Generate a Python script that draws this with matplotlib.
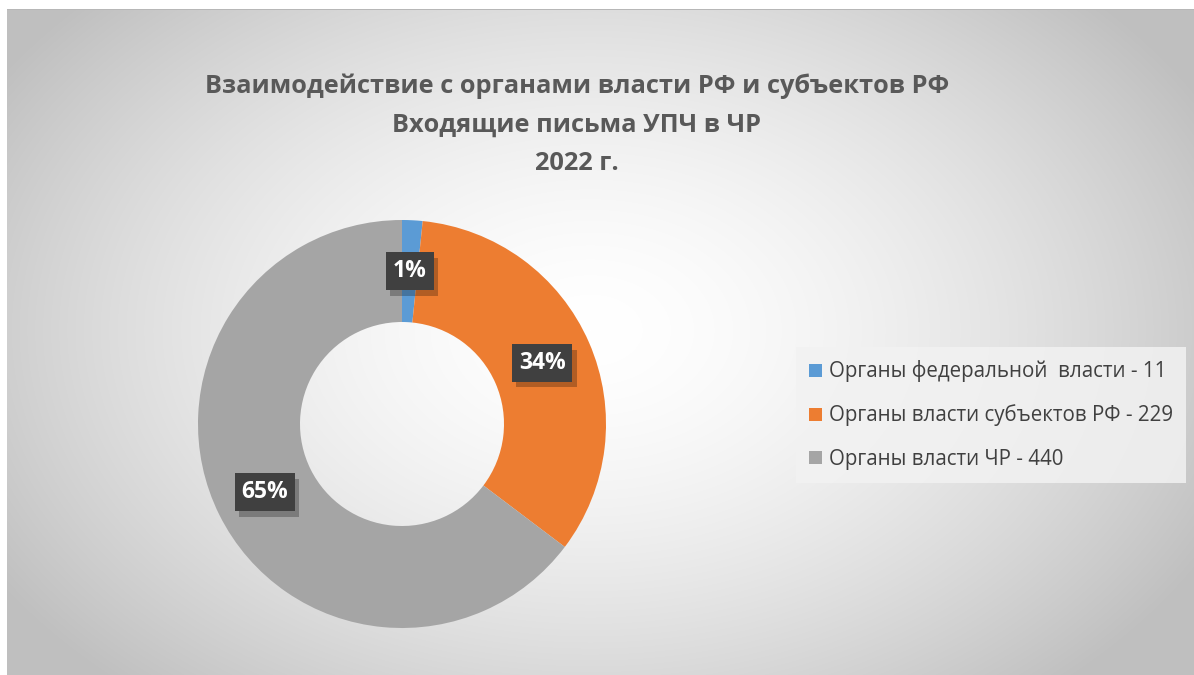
import numpy as np
import matplotlib.pyplot as plt
import matplotlib.patheffects as pe

# data
categories = ["Органы федеральной  власти - 11",
              "Органы власти субъектов РФ - 229",
              "Органы власти ЧР - 440"]
values = [11, 229, 440]
pct_labels = ["1%", "34%", "65%"]
colors = ["#5b9bd5", "#ed7d31", "#a5a5a5"]
title = "Взаимодействие с органами власти РФ и субъектов РФ\nВходящие письма УПЧ в ЧР\n2022 г."

W, H = 1194, 675
fig = plt.figure(figsize=(W / 100, H / 100), dpi=100)
fig.patch.set_facecolor("white")

# radial gradient background
bg = fig.add_axes([0, 0, 1, 1])
bg.set_axis_off()
yy, xx = np.mgrid[0:H, 0:W]
d = np.sqrt(((xx - 590) / 700.0) ** 2 + ((yy - 330) / 480.0) ** 2)
g = 1 - 0.25 * np.clip(d, 0, 1) ** 1.6
img = np.stack([g, g, g], axis=-1)
img[:9, :, :] = 1.0
img[:, :7, :] = 1.0
img[9:10, 7:, :] = 0.72
bg.imshow(img, extent=[0, W, H, 0], aspect="auto", interpolation="bilinear")
bg.set_xlim(0, W)
bg.set_ylim(H, 0)

# donut
cx, cy, r = 402, 424, 204
ax = fig.add_axes([(cx - r) / W, (H - cy - r) / H, 2 * r / W, 2 * r / H])
ax.set_axis_off()
wedges, texts, autotexts = ax.pie(values, colors=colors, startangle=90, counterclock=False,
                                  radius=1, wedgeprops=dict(width=0.5, edgecolor="none"),
                                  autopct="%1.0f%%", pctdistance=0.75)
ax.set_xlim(-1, 1)
ax.set_ylim(-1, 1)
ax.set_aspect("equal")

for t, lab in zip(autotexts, pct_labels):
    t.set_text(lab)
    t.set_color("white")
    t.set_fontweight("bold")
    t.set_fontsize(16.5)
    t.set_family("Open Sans")
    t.set_bbox(dict(boxstyle="square,pad=0.3", facecolor="#404040", edgecolor="none"))
    t.get_bbox_patch().set_path_effects([
        pe.SimplePatchShadow(offset=(3, -4), shadow_rgbFace="black", alpha=0.25),
        pe.Normal()])

fig.text(577 / W, 1 - 125 / H, title, ha="center", va="center", fontsize=18.3,
         fontweight="bold", family="Open Sans", color="#595959", linespacing=1.7)

leg = fig.legend(wedges, categories, loc="center left", bbox_to_anchor=(796 / W, 1 - 415 / H),
                 frameon=True, fancybox=False, handlelength=0.6, handleheight=0.6,
                 handletextpad=0.35, labelspacing=1.08, borderpad=0.65, borderaxespad=0,
                 prop=dict(family="Open Sans", size=14.8), labelcolor="#404040")
leg.get_frame().set_facecolor("#f2f2f2")
leg.get_frame().set_edgecolor("none")
leg.get_frame().set_alpha(0.85)

fig.savefig("out.png", dpi=100)
